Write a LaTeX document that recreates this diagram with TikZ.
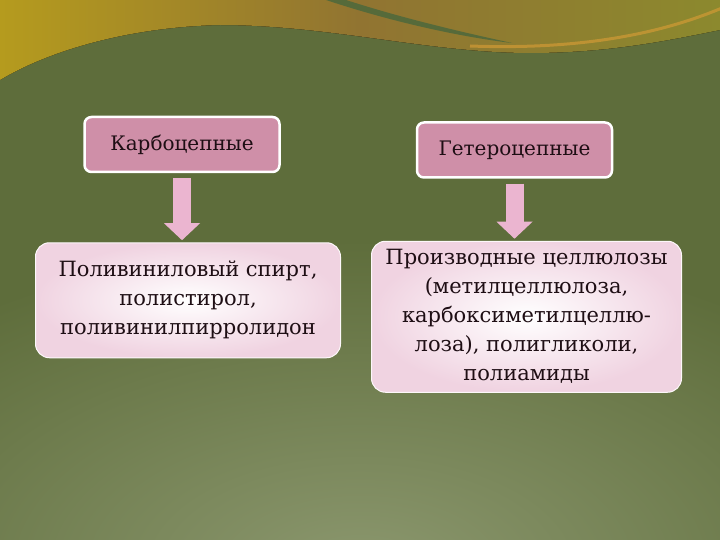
\documentclass[tikz,border=0pt]{standalone}
\usepackage{fontspec}
\setmainfont{DejaVu Serif}
\usetikzlibrary{positioning, arrows.meta}
\definecolor{bgdark}{HTML}{5E6D3B}
\definecolor{bglight}{HTML}{8B976E}
\definecolor{wavetop}{HTML}{917431}
\definecolor{waveleft}{HTML}{B59B1E}
\definecolor{waveright}{HTML}{8C892E}
\definecolor{wavestripe}{HTML}{D19A35}
\definecolor{streak}{HTML}{566A3A}
\definecolor{headpink}{HTML}{CF8FA8}
\definecolor{arrowpink}{HTML}{EBB5D0}
\definecolor{bodypink}{HTML}{F0D3E1}
\definecolor{inktext}{HTML}{1E0E14}
\tikzset{
  head/.style = {rectangle, rounded corners=7pt, minimum width=195pt, minimum height=55pt, draw=white, line width=2.5pt, fill=headpink, text=inktext, font=\fontsize{20}{24}\selectfont},
  body/.style = {rectangle, rounded corners=14pt, inner color=white, outer color=bodypink, draw=white!85!bodypink, line width=1pt, text=inktext, align=center, font=\fontsize{21}{29}\selectfont},
  downarrow/.style = {line width=18pt, draw=arrowpink, -{Triangle[width=35pt,length=17pt]}, shorten <=5pt, shorten >=2pt}
}
\begin{document}
\begin{tikzpicture}[x=1pt, y=1pt]
  % background
  \useasboundingbox (0,0) rectangle (720,-540);
  \fill[bgdark] (0,0) rectangle (720,-540);
  \begin{scope}
    \clip (0,0) rectangle (720,-540);
    \shade[inner color=bglight, outer color=bgdark] (360,-570) ellipse (620 and 330);
    \fill[left color=waveleft, right color=waveright, middle color=wavetop] (0,0) -- (0,-80)
      .. controls (50,-50) and (130,-27) .. (220,-25)
      .. controls (330,-25) and (430,-53) .. (530,-53)
      .. controls (610,-53) and (670,-40) .. (720,-30) -- (720,0) -- cycle;
    \draw[wavestripe, line width=3pt, opacity=.7] (470,-46) .. controls (580,-50) and (660,-34) .. (722,-8);
    \fill[streak] (320,2) .. controls (400,-25) and (470,-38) .. (512,-43)
      .. controls (470,-34) and (400,-18) .. (340,2) -- cycle;
  \end{scope}

  \node (carbo) [head] at (182,-144.5) {Карбоцепные};
  \node (hetero) [head, right=135pt of carbo, yshift=-5.5pt] {Гетероцепные};
  \node (polycarbo) [body, below=69pt of carbo, xshift=6pt, minimum width=305pt, minimum height=115pt]{Поливиниловый спирт,\\
    полистирол,\\
    поливинилпирролидон};
  \node (polyhetero) [body, below=62pt of hetero, xshift=12pt, minimum width=310pt, minimum height=151pt]{Производные целлюлозы\\
    (метилцеллюлоза,\\
    карбоксиметилцеллю-\\
    лоза), полигликоли,\\
    полиамиды};

  \draw[downarrow] (carbo.south) -- (carbo.south |- polycarbo.north);
  \draw[downarrow] (hetero.south) -- (hetero.south |- polyhetero.north);
\end{tikzpicture}
\end{document}
